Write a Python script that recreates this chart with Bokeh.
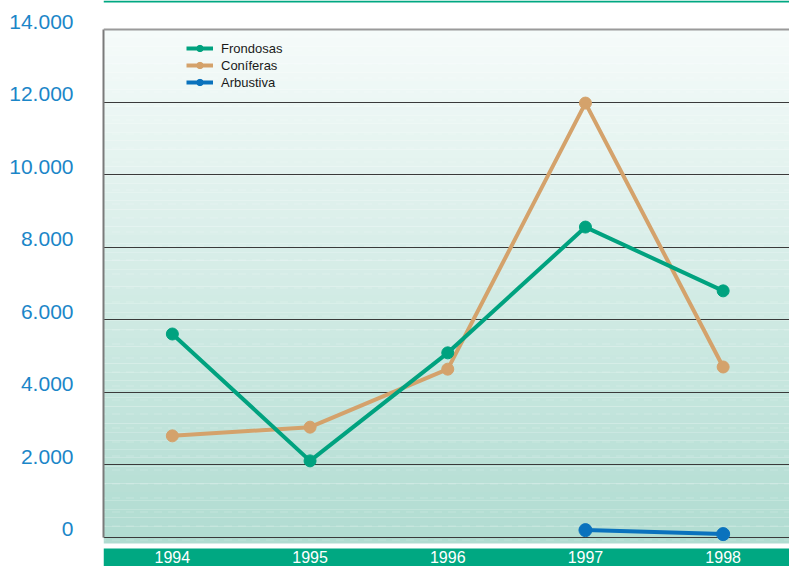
from bokeh.plotting import figure
from bokeh.models import (Range1d, FixedTicker, BoxAnnotation, Span, Legend,
                          LegendItem, LinearAxis)
from bokeh.core.properties import value
from bokeh.embed import file_html
from bokeh.resources import INLINE

# ---------------- data ----------------
years = [1994, 1995, 1996, 1997, 1998]
year_labels = ["1994", "1995", "1996", "1997", "1998"]
frondosas = [5600, 2100, 5080, 8550, 6790]
coniferas = [2790, 3030, 4630, 11970, 4690]
arbustiva_years = [1997, 1998]
arbustiva = [190, 80]
y_ticks = [0, 2000, 4000, 6000, 8000, 10000, 12000, 14000]
y_tick_labels = ["0", "2.000", "4.000", "6.000", "8.000", "10.000", "12.000", "14.000"]

# ---------------- style ----------------
TEAL = "#00a27f"
TAN = "#d4a26b"
BLUE = "#0a72bd"
BAR = "#00a882"
LABEL_BLUE = "#1b86c8"
FONT = "Liberation Sans"

W, H = 789, 566
PX_PER_UNIT = 507.5 / 14000.0          # vertical pixels per data unit
Y_TOP = 14000 + 29 / PX_PER_UNIT        # frame top (page y = 0)
Y_BOT = -(H - 536.5) / PX_PER_UNIT      # frame bottom (page y = 566)
X_START = 1993.5
X_END = X_START + (W - 103) / 137.7

def py(page_y):
    """data value for a page row (frame spans the whole canvas height)"""
    return 14000 - (page_y - 29) / PX_PER_UNIT

p = figure(width=W, height=H, output_backend="svg", toolbar_location=None,
           x_range=Range1d(X_START, X_END), y_range=Range1d(Y_BOT, Y_TOP),
           x_axis_location=None,
           min_border_left=103, min_border_right=0, min_border_top=0,
           min_border_bottom=0)
p.outline_line_color = None
p.background_fill_color = "white"
p.border_fill_color = "white"

# background gradient (light at top -> teal at bottom)
top_c = (246, 251, 250)
bot_c = (176, 220, 209)
grad_bottom = py(543)
n = 60
for i in range(n):
    b = grad_bottom + (14000 - grad_bottom) * i / n
    t = grad_bottom + (14000 - grad_bottom) * (i + 1) / n
    f = (i + 0.5) / n
    c = tuple(int(round(bot_c[k] + (top_c[k] - bot_c[k]) * f)) for k in range(3))
    p.add_layout(BoxAnnotation(bottom=b, top=t, fill_color="#%02x%02x%02x" % c,
                               fill_alpha=1, line_color=None, level="image"))
# subtle dashed texture
p.add_layout(BoxAnnotation(bottom=grad_bottom, top=14000, fill_alpha=0,
                           line_color=None, hatch_pattern="horizontal_dash",
                           hatch_color="white", hatch_alpha=0.18, hatch_scale=14,
                           level="image"))

# bottom green band with years
p.add_layout(BoxAnnotation(top=py(548), fill_color=BAR, fill_alpha=1,
                           line_color=None, level="image"))
# top thin green line
p.add_layout(BoxAnnotation(bottom=py(2), fill_color=BAR, fill_alpha=1,
                           line_color=None, level="image"))

# grid
p.xgrid.visible = False
p.ygrid.ticker = FixedTicker(ticks=y_ticks[:-1])
p.ygrid.grid_line_color = "#3a3a3a"
p.ygrid.grid_line_width = 1.2
p.add_layout(Span(location=y_ticks[-1], dimension="width", line_color="#9a9a9a",
                  line_width=2))

# main y axis: only the left border line
ax = p.yaxis[0]
ax.ticker = FixedTicker(ticks=y_ticks)
ax.major_label_overrides = {t: "" for t in y_ticks}
ax.major_label_standoff = 0
ax.major_tick_out = 0
ax.major_tick_in = 0
ax.minor_tick_out = 0
ax.minor_tick_in = 0
ax.major_tick_line_color = None
ax.minor_tick_line_color = None
ax.axis_line_color = "#7a7a7a"
ax.axis_line_width = 2
ax.bounds = (y_ticks[0], y_ticks[-1])

# label axis on a slightly shifted range so labels sit above the gridlines
shift = 8 / PX_PER_UNIT
p.extra_y_ranges = {"lab": Range1d(Y_BOT - shift, Y_TOP - shift)}
lab = LinearAxis(y_range_name="lab", ticker=FixedTicker(ticks=y_ticks))
lab.major_label_overrides = dict(zip(y_ticks, y_tick_labels))
lab.major_label_text_font = FONT
lab.major_label_text_font_size = "21px"
lab.major_label_text_color = LABEL_BLUE
lab.major_label_standoff = 30
lab.major_tick_out = 0
lab.major_tick_in = 0
lab.minor_tick_out = 0
lab.minor_tick_in = 0
lab.axis_line_color = None
lab.major_tick_line_color = None
lab.minor_tick_line_color = None
p.add_layout(lab, "left")

# year labels inside the green band
p.text(x=years, y=[py(556)] * len(years), text=year_labels, text_color="white",
       text_font=value(FONT), text_font_size="16px", text_align="center",
       text_baseline="middle")

# series
cl = p.line(years, coniferas, line_width=4, color=TAN)
cs = p.scatter(years, coniferas, size=12, color=TAN)
fl = p.line(years, frondosas, line_width=4, color=TEAL)
fs = p.scatter(years, frondosas, size=12, color=TEAL)
al = p.line(arbustiva_years, arbustiva, line_width=4, color=BLUE)
as_ = p.scatter(arbustiva_years, arbustiva, size=13, color=BLUE)

legend = Legend(items=[LegendItem(label="Frondosas", renderers=[fl, fs]),
                       LegendItem(label="Coníferas", renderers=[cl, cs]),
                       LegendItem(label="Arbustiva", renderers=[al, as_])],
                location=(83, H - 90), background_fill_alpha=0,
                border_line_color=None, label_text_font=FONT,
                label_text_font_size="13px", label_text_color="#1a1a1a",
                glyph_width=27, glyph_height=16, label_height=16, spacing=1,
                padding=0, margin=0, label_standoff=8)
p.add_layout(legend)

open("out.html", "w").write(file_html(p, INLINE))
